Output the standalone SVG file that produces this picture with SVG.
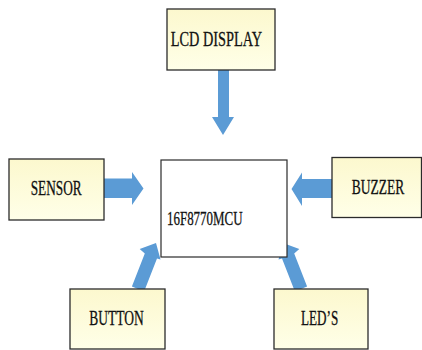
<svg xmlns="http://www.w3.org/2000/svg" width="422" height="350" viewBox="0 0 422 350">
<defs>
<linearGradient id="yg" x1="0" y1="0" x2="0" y2="1">
<stop offset="0" stop-color="#FCF8CE"/>
<stop offset="1" stop-color="#FFFFE8"/>
</linearGradient>
</defs>
<style>
.box{fill:url(#yg);stroke:#2b2b2b;stroke-width:1.3}
.mcu{fill:#ffffff;stroke:#2b2b2b;stroke-width:1.2}
.arr{fill:#5B9BD5}
.lbl{font-family:"Liberation Serif","Times New Roman",serif;font-size:20px;fill:#111111;stroke:#111111;stroke-width:0.3}
</style>
<rect width="422" height="350" fill="#ffffff"/>
<g id="connectors">
<polygon class="arr" points="218,70 229,70 229,117 234,117 223,135 212,117 218,117"/>
<polygon class="arr" points="104,178.5 132,178.5 132,172 143.5,188.5 132,205 132,198 104,198"/>
<polygon class="arr" points="332,179 302,179 302,172.5 291.5,189 302,206 302,198 332,198"/>
<polygon class="arr" points="131.9,286.6 144.8,253.6 139.7,249 156,243 160.5,259.5 157,258.4 144.1,291.4"/>
<polygon class="arr" points="307.1,286.6 294.2,253.6 299.3,249 283,243 278.5,259.5 282,258.4 294.9,291.4"/>
</g>
<g id="lcd">
<rect class="box" x="167" y="9" width="108" height="61"/>
<text class="lbl" transform="translate(170.7,46) scale(0.716,1)">LCD DISPLAY</text>
</g>
<g id="mcu">
<rect class="mcu" x="161" y="160" width="126" height="97"/>
<text class="lbl" style="font-size:18.5px" transform="translate(167,225) scale(0.70,1)">16F8770MCU</text>
</g>
<g id="sensor">
<rect class="box" x="9" y="159" width="95" height="61"/>
<text class="lbl" transform="translate(30.7,195) scale(0.665,1)">SENSOR</text>
</g>
<g id="buzzer">
<rect class="box" x="332" y="157.5" width="89.5" height="60"/>
<text class="lbl" transform="translate(351.7,194.3) scale(0.676,1)">BUZZER</text>
</g>
<g id="button">
<rect class="box" x="70" y="289" width="95" height="60"/>
<text class="lbl" transform="translate(89.3,325) scale(0.674,1)">BUTTON</text>
</g>
<g id="leds">
<rect class="box" x="274" y="289" width="94" height="60"/>
<text class="lbl" transform="translate(301,325) scale(0.658,1)">LED’S</text>
</g>
</svg>
